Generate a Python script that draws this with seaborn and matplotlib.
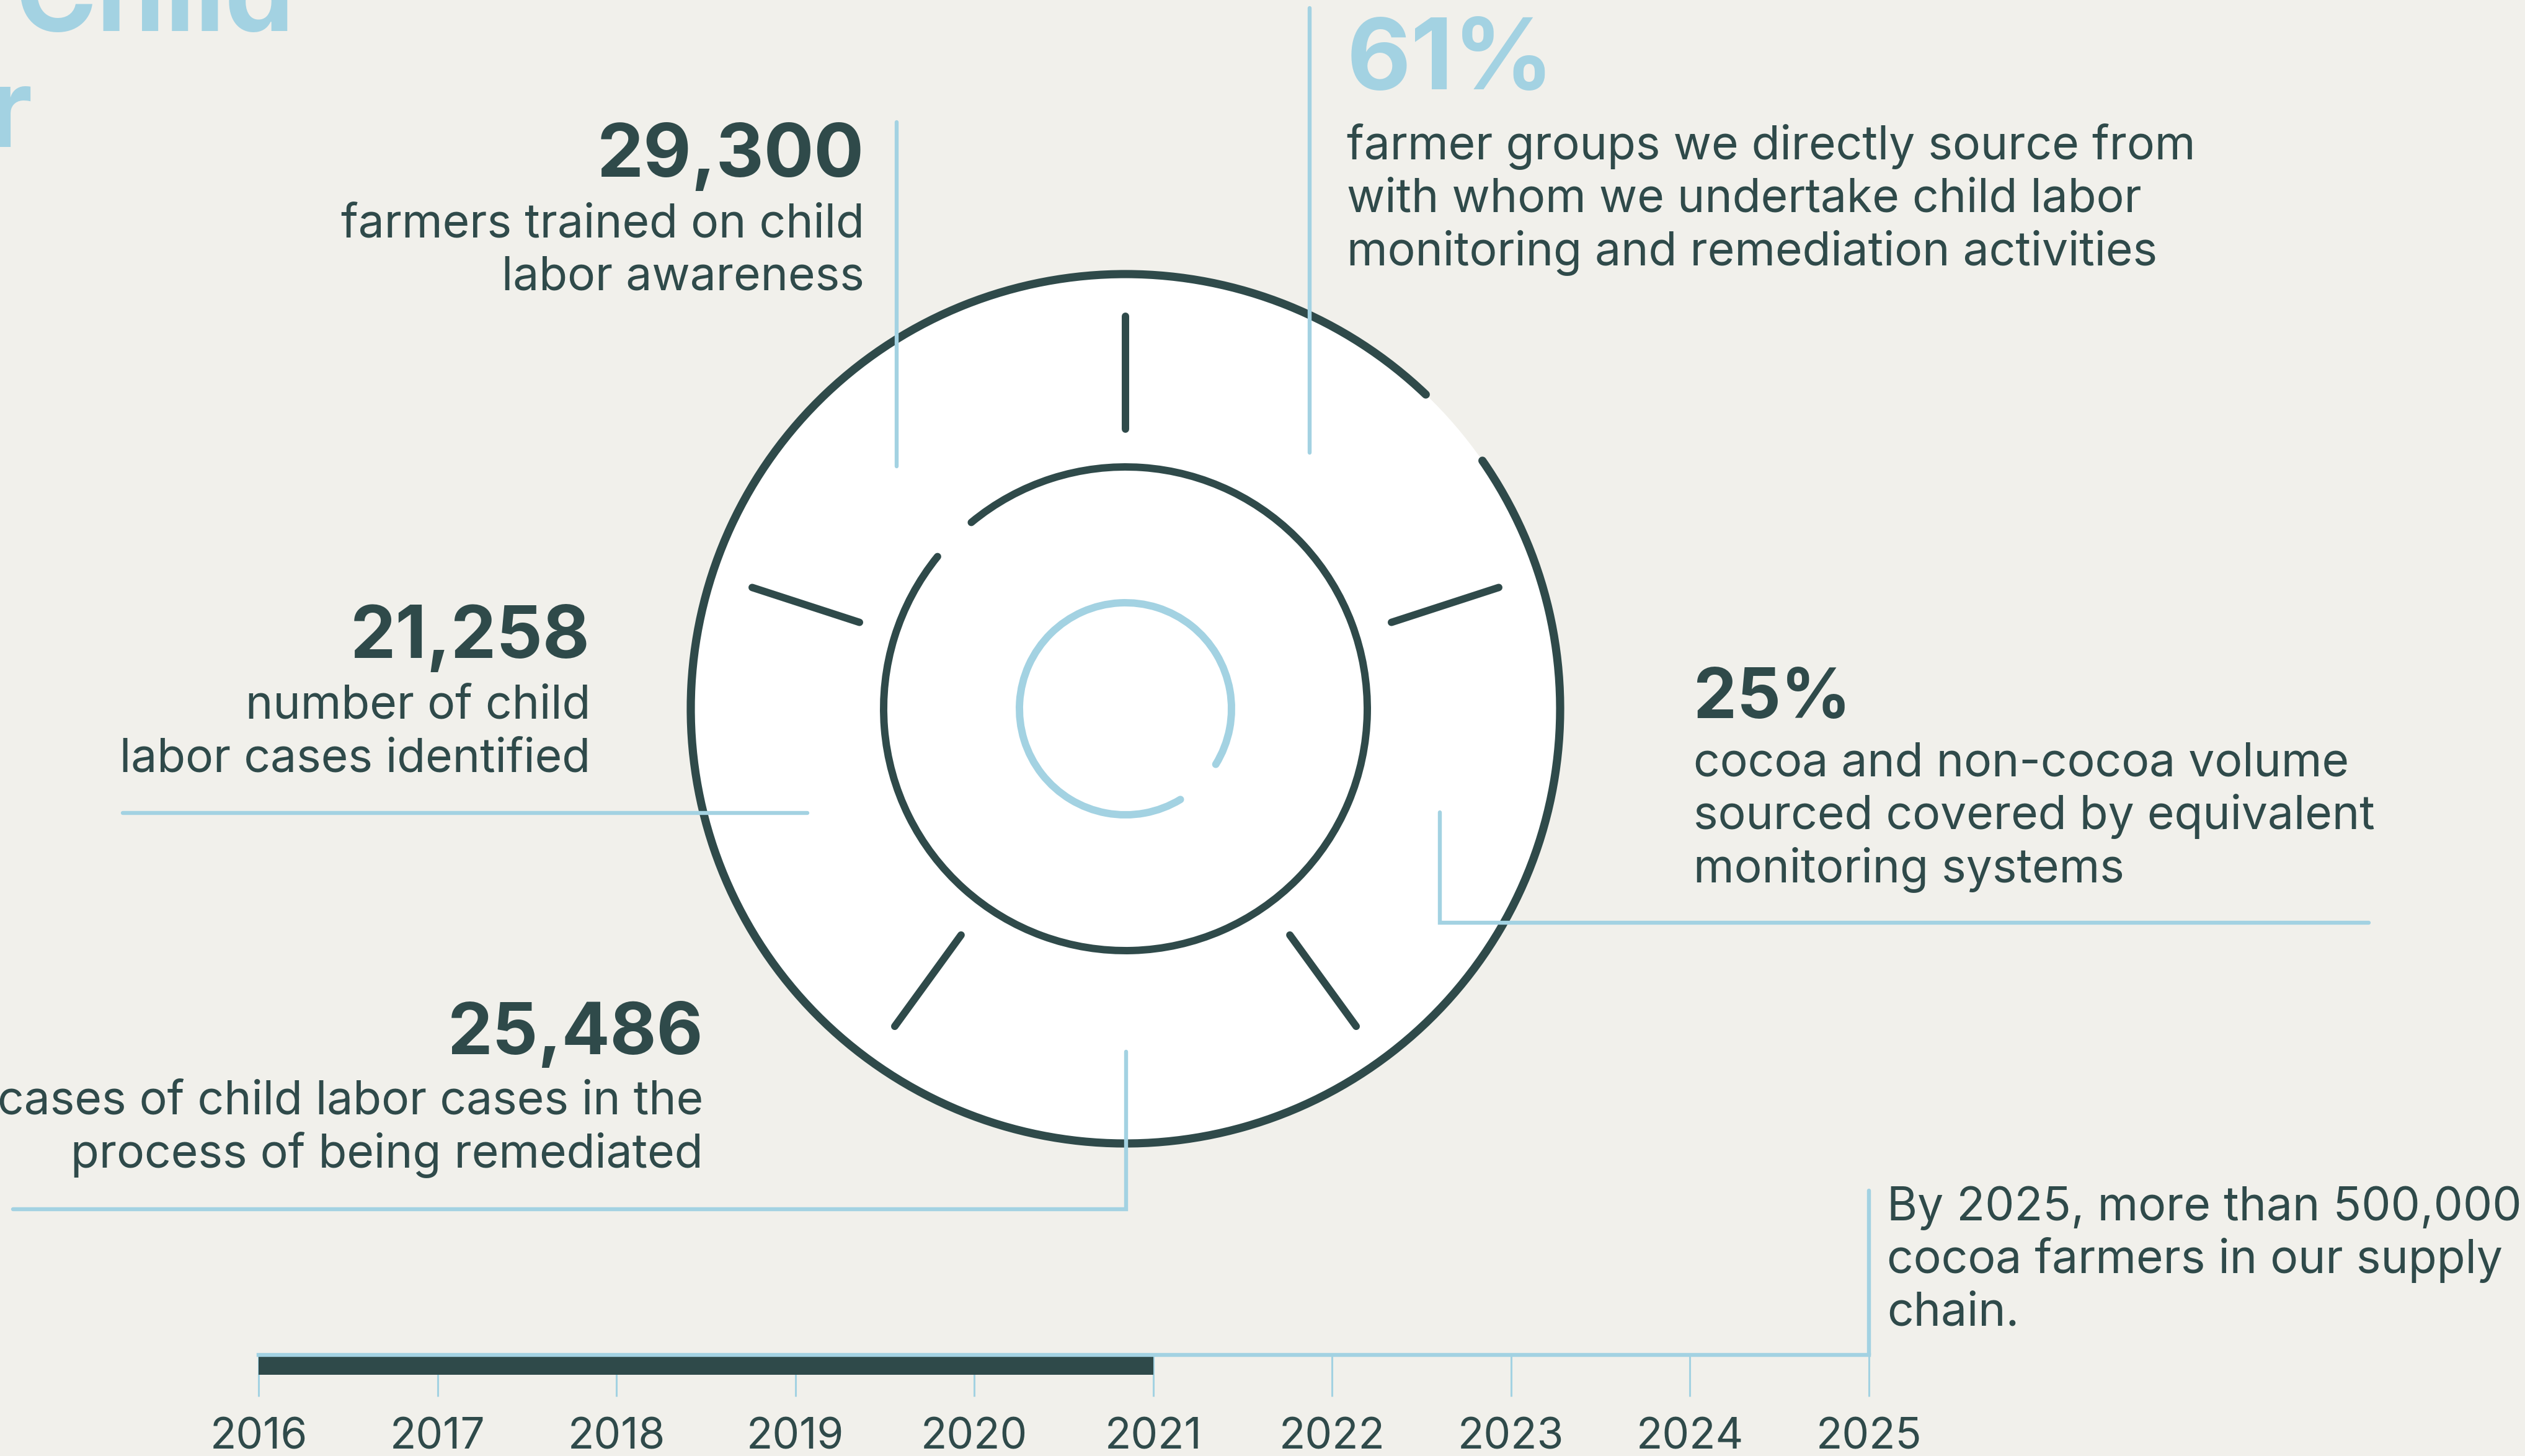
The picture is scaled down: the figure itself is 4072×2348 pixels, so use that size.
import numpy as np
import matplotlib
matplotlib.use("Agg")
import matplotlib.pyplot as plt
from matplotlib.patches import Circle, Arc
from matplotlib.transforms import blended_transform_factory
import seaborn as sns

# --- data ---
stat_values = ["29,300", "61%", "21,258", "25%", "25,486"]
stat_texts = [
    ["farmers trained on child", "labor awareness"],
    ["farmer groups we directly source from",
     "with whom we undertake child labor",
     "monitoring and remediation activities"],
    ["number of child", "labor cases identified"],
    ["cocoa and non-cocoa volume", "sourced covered by equivalent", "monitoring systems"],
    ["cases of child labor cases in the", "process of being remediated"],
]
goal_text = ["By 2025, more than 500,000", "cocoa farmers in our supply", "chain."]
title_lines = ["Child", "Labor"]
years = [2016, 2017, 2018, 2019, 2020, 2021, 2022, 2023, 2024, 2025]
years_done = [2016, 2017, 2018, 2019, 2020]
progress_until = 2021

# --- colours ---
BG = "#f1f0eb"
DARK = "#2f4a4a"
BLUE = "#a3d2e2"

W, H = 4072, 2348
DPI = 100

sns.set_theme(style="white")
plt.rcParams["font.family"] = ["Inter", "DejaVu Sans"]

fig = plt.figure(figsize=(W / DPI, H / DPI), dpi=DPI, facecolor=BG)
ax = fig.add_axes([0, 0, 1, 1])
ax.set_facecolor(BG)
ax.axis("off")

# layout (pixel positions of the text blocks)
# anchor x, number baseline, first body baseline, alignment, number colour, number size
stat_layout = [
    (1394, 285, 383, "right", DARK, 86),
    (2172, 144, 257, "left", BLUE, 115),
    (952, 1061, 1160, "right", DARK, 84),
    (2731, 1158, 1252, "left", DARK, 80),
    (1134, 1700, 1798, "right", DARK, 83),
]
line_gap = 85
body_size = 54

for val, lines, (x, yn, yb, ha, col, size) in zip(stat_values, stat_texts, stat_layout):
    ax.text(x, yn, val, ha=ha, va="baseline", fontsize=size, fontweight="bold", color=col)
    for i, ln in enumerate(lines):
        ax.text(x, yb + i * line_gap, ln, ha=ha, va="baseline", fontsize=body_size, color=DARK)

for i, ln in enumerate(goal_text):
    ax.text(3043, 1968 + i * line_gap, ln, ha="left", va="baseline", fontsize=body_size, color=DARK)

# title, mostly cropped off the canvas
ax.text(475, 50, title_lines[0], ha="right", va="baseline", fontsize=128, fontweight="bold", color=BLUE)
ax.text(53, 237, title_lines[1], ha="right", va="baseline", fontsize=128, fontweight="bold", color=BLUE)

# --- donut ---
cx, cy = 1815, 1143
ax.add_patch(Circle((cx, cy), 701, facecolor="white", edgecolor="none", zorder=1))


def vis_arc(r, a0, a1, color, lw):
    # angles counted counter-clockwise on screen (y axis is inverted)
    ax.add_patch(Arc((cx, cy), 2 * r, 2 * r, theta1=-a1, theta2=-a0,
                     color=color, lw=lw, capstyle="round", zorder=2))


vis_arc(701, 46.3, 394.8, DARK, 9.5)
vis_arc(390, 141, 489.6, DARK, 8.6)
vis_arc(171, -31.6, 301.2, BLUE, 8.6)

for ang in np.deg2rad(90 + 72 * np.arange(5)):
    r = np.array([451, 633])
    ax.plot(cx + r * np.cos(ang), cy - r * np.sin(ang), color=DARK, lw=8.6,
            solid_capstyle="round", zorder=3)

# --- connector lines ---
connectors = [
    ([1446, 1446], [197, 752]),
    ([2112, 2112], [13, 730]),
    ([198, 1302], [1311, 1311]),
    ([2322, 2322, 3820], [1310, 1488, 1488]),
    ([21, 1816, 1816], [1950, 1950, 1696]),
]
for xs, ys in connectors:
    ax.plot(xs, ys, color=BLUE, lw=4.6, solid_capstyle="round", solid_joinstyle="miter", zorder=4)

# --- timeline ---
tl_left, tl_right, tl_top, tl_bot = 417, 3014, 2185, 2252
axt = fig.add_axes([tl_left / W, 1 - tl_bot / H, (tl_right - tl_left) / W, (tl_bot - tl_top) / H])
axt.patch.set_alpha(0)
sns.histplot(x=years_done, bins=years_done + [progress_until], color=DARK, alpha=1,
             edgecolor="none", linewidth=0, ax=axt)
axt.set_xlim(years[0], years[-1])
axt.set_ylim(2.09, 0)
for s in ["left", "right", "bottom"]:
    axt.spines[s].set_visible(False)
axt.spines["top"].set_color(BLUE)
axt.spines["top"].set_linewidth(4.6)
axt.set_xticks(years)
axt.set_xticklabels([str(y) for y in years])
axt.set_yticks([])
axt.set_xlabel("")
axt.set_ylabel("")
axt.tick_params(axis="x", bottom=True, direction="in", length=(tl_bot - tl_top) * 0.72,
                width=2.2, color=BLUE, pad=24, labelsize=50, labelcolor=DARK)

# goal line rising from 2025
tr = blended_transform_factory(axt.transData, ax.transData)
ax.plot([years[-1], years[-1]], [1920, tl_top], color=BLUE, lw=4.6,
        solid_capstyle="round", transform=tr, zorder=4)

ax.set_xlim(0, W)
ax.set_ylim(H, 0)
ax.set_aspect("equal")

fig.savefig("out.png", dpi=DPI, facecolor=BG)
